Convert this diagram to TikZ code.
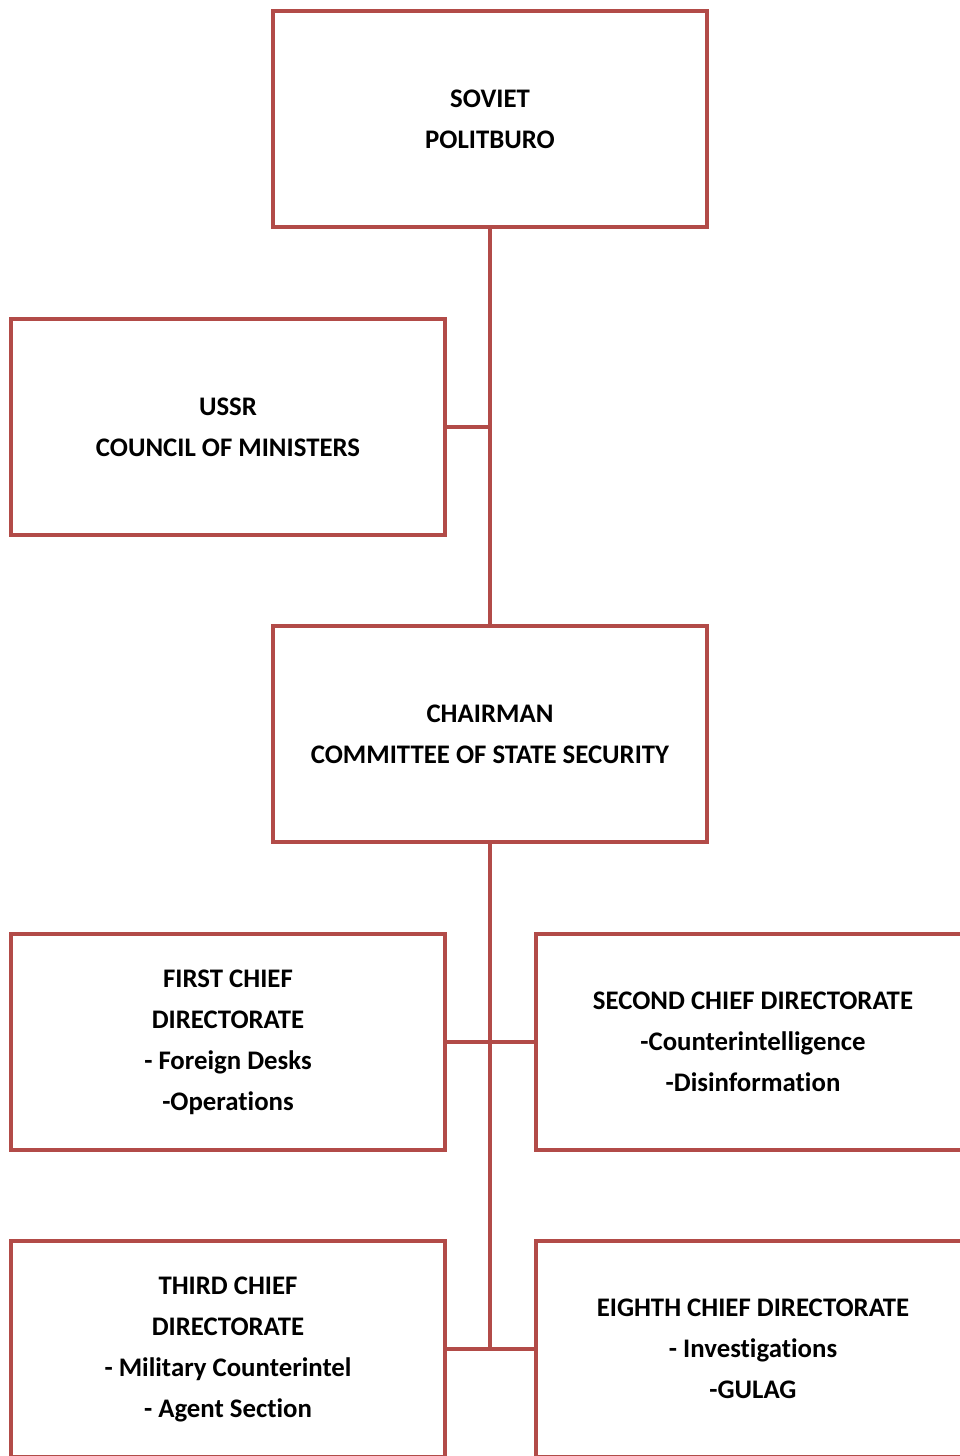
\documentclass[tikz,border=0pt]{standalone}
\usepackage{fontspec}
\setmainfont[RawFeature={-liga}]{Carlito}
\definecolor{boxred}{RGB}{178,75,72}
\begin{document}
\begin{tikzpicture}[x=1pt,y=-1pt,
  orgbox/.style={draw=boxred,line width=4.4pt,minimum width=434pt,minimum height=216pt,
    inner sep=0pt,align=center,font=\bfseries\fontsize{26.8}{41}\selectfont,fill=white},
  link/.style={draw=boxred,line width=4.4pt}]
\clip (0,0) rectangle (960,1456);
\fill[white] (0,0) rectangle (960,1456);
\node[orgbox] (polit) at (490,119) {SOVIET\\POLITBURO};
\node[orgbox] (council) at (228,427) {USSR\\COUNCIL OF MINISTERS};
\node[orgbox] (chair) at (490,734) {CHAIRMAN\\COMMITTEE OF STATE SECURITY};
\node[orgbox] (first) at (228,1042) {FIRST CHIEF\\DIRECTORATE\\- Foreign Desks\\-Operations};
\node[orgbox] (second) at (753,1042) {SECOND CHIEF DIRECTORATE\\-Counterintelligence\\-Disinformation};
\node[orgbox] (third) at (228,1349) {THIRD CHIEF\\DIRECTORATE\\- Military Counterintel\\- Agent Section};
\node[orgbox] (eighth) at (753,1349) {EIGHTH CHIEF DIRECTORATE\\- Investigations\\-GULAG};
\coordinate (j1) at (council.east -| polit.south);
\coordinate (j3) at (third.east -| chair.south);
\draw[link] (polit.south) -- (chair.north);
\draw[link] (council.east) -- (j1);
\draw[link] (chair.south) -- (j3);
\draw[link] (first.east) -- (second.west);
\draw[link] (third.east) -- (eighth.west);
\end{tikzpicture}
\end{document}
